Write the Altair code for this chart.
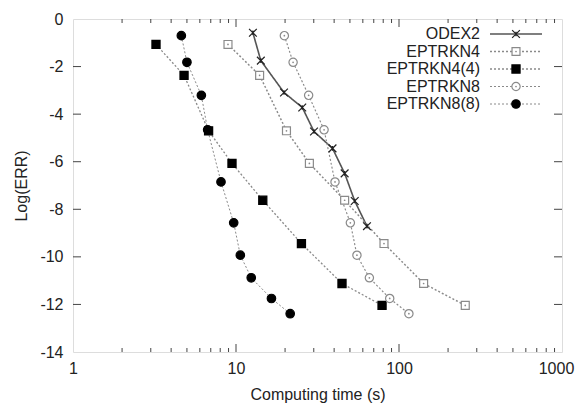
import altair as alt
import pandas as pd

# ---------------- data ----------------
series_names = ["ODEX2", "EPTRKN4", "EPTRKN4(4)", "EPTRKN8", "EPTRKN8(8)"]

odex2_time = [12.7, 14.2, 19.7, 25.5, 30.1, 39.1, 46.4, 53.5, 63.6]
odex2_err = [-0.58, -1.75, -3.09, -3.72, -4.73, -5.44, -6.49, -7.65, -8.71]

eptrkn4_time = [8.93, 13.96, 20.4, 28.2, 46.4, 80.9, 141.6, 255.0]
eptrkn4_err = [-1.07, -2.37, -4.70, -6.07, -7.62, -9.44, -11.12, -12.04]

eptrkn4_4_time = [3.23, 4.8, 6.79, 9.45, 14.6, 25.2, 44.7, 78.7]
eptrkn4_4_err = [-1.07, -2.37, -4.70, -6.07, -7.62, -9.44, -11.12, -12.04]

eptrkn8_time = [19.8, 22.4, 27.9, 34.7, 40.5, 50.3, 55.2, 65.8, 87.7, 115.0]
eptrkn8_err = [-0.70, -1.82, -3.21, -4.66, -6.85, -8.57, -9.93, -10.88, -11.75, -12.39]

eptrkn8_8_time = [4.62, 5.0, 6.13, 6.7, 8.09, 9.68, 10.63, 12.4, 16.5, 21.5]
eptrkn8_8_err = [-0.70, -1.82, -3.21, -4.66, -6.85, -8.57, -9.93, -10.88, -11.75, -12.39]

x_labels = [1, 10, 100, 1000]
x_major_ticks = [10, 100]
x_minor_ticks = [2, 3, 4, 5, 6, 7, 8, 9, 20, 30, 40, 50, 60, 70, 80, 90,
                 200, 300, 400, 500, 600, 700, 800, 900]
y_labels = [0, -2, -4, -6, -8, -10, -12, -14]
y_ticks = [-2, -4, -6, -8, -10, -12]

# ---------------- tables ----------------
times = [odex2_time, eptrkn4_time, eptrkn4_4_time, eptrkn8_time, eptrkn8_8_time]
errs = [odex2_err, eptrkn4_err, eptrkn4_4_err, eptrkn8_err, eptrkn8_8_err]
rows = []
for name, ts, es in zip(series_names, times, errs):
    for i, (t, e) in enumerate(zip(ts, es)):
        rows.append({"series": name, "time": t, "err": e, "idx": i})
df = pd.DataFrame(rows)

W, H = 489, 333
FONT = "Liberation Sans"
TXT = "#222222"
FRAME = "#444444"

xscale = alt.Scale(type="log", domain=[1, 1000])
yscale = alt.Scale(domain=[-14, 0])

line_color = alt.Color("series:N", legend=None, scale=alt.Scale(
    domain=series_names, range=["#555555", "#8a8a8a", "#8a8a8a", "#8a8a8a", "#8a8a8a"]))
line_dash = alt.StrokeDash("series:N", legend=None, scale=alt.Scale(
    domain=series_names, range=[[1, 0], [2, 2], [2, 2], [2, 2], [2, 2]]))
line_width = alt.StrokeWidth("series:N", legend=None, scale=alt.Scale(
    domain=series_names, range=[1.6, 1, 1, 1, 1]))

pt_shape = alt.Shape("series:N", legend=None, scale=alt.Scale(
    domain=series_names,
    range=["M-1,-1L1,1M-1,1L1,-1M0,-0.6L0,0.6", "square", "square", "circle", "circle"]))
pt_fill = alt.Fill("series:N", legend=None, scale=alt.Scale(
    domain=series_names, range=["transparent", "white", "black", "white", "black"]))
pt_stroke = alt.Stroke("series:N", legend=None, scale=alt.Scale(
    domain=series_names, range=["#222222", "#8a8a8a", "black", "#8a8a8a", "black"]))
pt_size = alt.Size("series:N", legend=None, scale=alt.Scale(
    domain=series_names, range=[60, 72, 72, 72, 72]))

x_axis = alt.Axis(values=x_labels, ticks=False, domain=False, grid=False,
                  labelExpr="toString(datum.value)",
                  labelOffset={"expr": "datum.value == 1000 ? -6 : 0"},
                  labelPadding=8, labelFontSize=16, labelFont=FONT, labelColor=TXT,
                  labelFlush=False, labelOverlap=False,
                  title="Computing time (s)", titleFont=FONT, titleFontSize=16,
                  titleFontWeight="normal", titleColor=TXT,
                  titleX=W / 2, titleY=42, titleBaseline="middle")
y_axis = alt.Axis(values=y_labels, ticks=False, domain=False, grid=False,
                  labelExpr="toString(datum.value)",
                  labelPadding=10, labelFontSize=16, labelFont=FONT, labelColor=TXT,
                  labelFlush=False, labelOverlap=False,
                  title="Log(ERR)", titleFont=FONT, titleFontSize=16,
                  titleFontWeight="normal", titleColor=TXT,
                  titleX=-52, titleY=H / 2, titleBaseline="middle")

base = alt.Chart(df)
lines = base.mark_line().encode(
    x=alt.X("time:Q", scale=xscale, axis=x_axis),
    y=alt.Y("err:Q", scale=yscale, axis=y_axis),
    color=line_color, strokeDash=line_dash, strokeWidth=line_width,
    detail="series:N", order="idx:Q")

points = base.mark_point(filled=True, strokeWidth=1.2, opacity=1).encode(
    x=alt.X("time:Q", scale=xscale),
    y=alt.Y("err:Q", scale=yscale),
    shape=pt_shape, fill=pt_fill, stroke=pt_stroke, size=pt_size)

dots = base.transform_filter(
    alt.FieldOneOfPredicate(field="series", oneOf=["EPTRKN4", "EPTRKN8"])
).mark_point(filled=True, size=3, color="#8a8a8a", opacity=1).encode(
    x=alt.X("time:Q", scale=xscale), y=alt.Y("err:Q", scale=yscale))

# inward ticks (gnuplot style), mirrored on all sides
xmaj = alt.Chart(pd.DataFrame({"time": x_major_ticks}))
xmin = alt.Chart(pd.DataFrame({"time": x_minor_ticks}))
yt = alt.Chart(pd.DataFrame({"err": y_ticks}))
tick_style = dict(color=FRAME, strokeWidth=1)

ticks = [
    xmaj.mark_rule(**tick_style).encode(x=alt.X("time:Q", scale=xscale), y=alt.value(H), y2=alt.value(H - 8)),
    xmaj.mark_rule(**tick_style).encode(x=alt.X("time:Q", scale=xscale), y=alt.value(0), y2=alt.value(8)),
    xmin.mark_rule(**tick_style).encode(x=alt.X("time:Q", scale=xscale), y=alt.value(H), y2=alt.value(H - 4)),
    xmin.mark_rule(**tick_style).encode(x=alt.X("time:Q", scale=xscale), y=alt.value(0), y2=alt.value(4)),
    yt.mark_rule(**tick_style).encode(y=alt.Y("err:Q", scale=yscale), x=alt.value(0), x2=alt.value(8)),
    yt.mark_rule(**tick_style).encode(y=alt.Y("err:Q", scale=yscale), x=alt.value(W), x2=alt.value(W - 8)),
]

main = alt.layer(lines, *ticks, points, dots)

# legend (text on the left, sample on the right, as in gnuplot)
leg = alt.Chart(pd.DataFrame({"series": series_names, "row": list(range(5))})).transform_calculate(
    ypix="15 + datum.row * 17.5")
leg_y = alt.Y("ypix:Q", scale=None, axis=None)
leg_text = leg.mark_text(align="right", baseline="middle", font=FONT, fontSize=16, color=TXT).encode(
    x=alt.value(407), y=leg_y, text="series:N")
leg_line = leg.mark_rule().encode(
    x=alt.value(417), x2=alt.value(469), y=leg_y,
    color=line_color, strokeDash=line_dash, strokeWidth=line_width)
leg_pts = leg.mark_point(filled=True, strokeWidth=1.2, opacity=1).encode(
    x=alt.value(443), y=leg_y, shape=pt_shape, fill=pt_fill, stroke=pt_stroke, size=pt_size)
leg_dots = leg.transform_filter(
    alt.FieldOneOfPredicate(field="series", oneOf=["EPTRKN4", "EPTRKN8"])
).mark_point(filled=True, size=3, color="#8a8a8a", opacity=1).encode(x=alt.value(443), y=leg_y)
legend = alt.layer(leg_line, leg_pts, leg_dots, leg_text)

chart = alt.layer(main, legend).resolve_scale(y="independent").properties(
    width=W, height=H,
    autosize=alt.AutoSizeParams(type="none"),
    padding={"left": 65, "top": 11, "right": 14, "bottom": 51},
).configure_view(stroke=FRAME, strokeWidth=2).configure(background="white")

chart.save("out.html", embed_options={"renderer": "svg", "actions": False})
